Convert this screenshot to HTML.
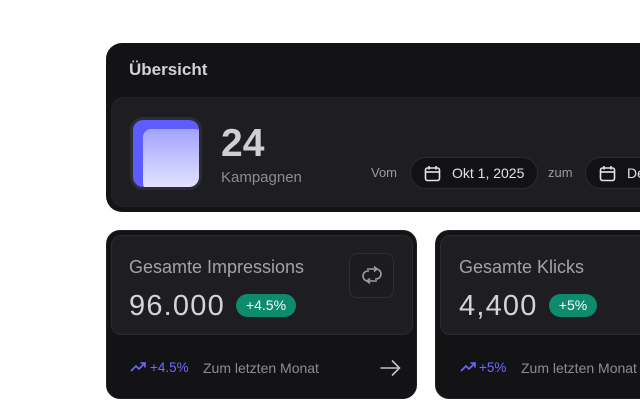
<!DOCTYPE html>
<html><head><meta charset="utf-8">
<style>
*{margin:0;padding:0;box-sizing:border-box}
html,body{width:640px;height:417px;overflow:hidden;background:#fff;font-family:"Liberation Sans",sans-serif}
.abs{position:absolute}
.t{position:absolute;white-space:nowrap;line-height:1}
</style></head><body>
<!-- main card -->
<div class="abs" style="left:106px;top:43px;width:560px;height:169px;background:#131316;border-radius:16px;"></div>
<div class="abs" style="left:111px;top:97px;width:550px;height:110px;background:#1d1d22;border-radius:12px;border:1px solid #222227"></div>
<div class="t" style="left:129px;top:60.5px;font-size:17px;font-weight:bold;color:#d2d2d6">Übersicht</div>

<!-- icon square -->
<div class="abs" style="left:130px;top:117px;width:72px;height:73px;background:#2c2c32;border-radius:13px"></div>
<div class="abs" style="left:133px;top:120px;width:66px;height:67px;background:#5c5cff;border-radius:10px;overflow:hidden">
  <div class="abs" style="left:10px;top:9px;width:60px;height:62px;border-radius:8px;background:linear-gradient(180deg,#a3a3ff 0%,#c8c8ff 55%,#e6e6ff 100%)"></div>
</div>

<div class="t" style="left:221px;top:124px;font-size:39px;font-weight:bold;color:#cfcfd3">24</div>
<div class="t" style="left:221px;top:170px;font-size:15px;color:#8c8c92">Kampagnen</div>

<div class="t" style="left:371px;top:166px;font-size:13px;color:#9a9aa0">Vom</div>
<div class="abs" style="left:410px;top:157px;width:128px;height:32px;border-radius:16px;background:#121215;border:1px solid #2a2a30"></div>
<svg class="abs" style="left:424px;top:165px" width="18" height="17" viewBox="0 0 18 17"><rect x="1.5" y="3" width="14" height="12.5" rx="2" fill="none" stroke="#e4e4e8" stroke-width="1.6"/><line x1="1.5" y1="7" x2="15.5" y2="7" stroke="#e4e4e8" stroke-width="1.6"/><line x1="5" y1="1" x2="5" y2="4.5" stroke="#e4e4e8" stroke-width="1.6"/><line x1="12" y1="1" x2="12" y2="4.5" stroke="#e4e4e8" stroke-width="1.6"/></svg>
<div class="t" style="left:452px;top:165.5px;font-size:14px;color:#e2e2e6">Okt 1, 2025</div>
<div class="t" style="left:548px;top:166px;font-size:13px;color:#9a9aa0">zum</div>
<div class="abs" style="left:585px;top:157px;width:128px;height:32px;border-radius:16px;background:#121215;border:1px solid #2a2a30"></div>
<svg class="abs" style="left:599px;top:165px" width="18" height="17" viewBox="0 0 18 17"><rect x="1.5" y="3" width="14" height="12.5" rx="2" fill="none" stroke="#e4e4e8" stroke-width="1.6"/><line x1="1.5" y1="7" x2="15.5" y2="7" stroke="#e4e4e8" stroke-width="1.6"/><line x1="5" y1="1" x2="5" y2="4.5" stroke="#e4e4e8" stroke-width="1.6"/><line x1="12" y1="1" x2="12" y2="4.5" stroke="#e4e4e8" stroke-width="1.6"/></svg>
<div class="t" style="left:627px;top:165.5px;font-size:14px;color:#e2e2e6">Dez</div>

<!-- card 1 -->
<div class="abs" style="left:106px;top:230px;width:311px;height:169px;background:#131316;border-radius:14px;border:1px solid #1f1f23"></div>
<div class="abs" style="left:111px;top:235px;width:302px;height:100px;background:#1d1d22;border-radius:10px;border:1px solid #2a2a2f"></div>
<div class="t" style="left:129px;top:258px;font-size:18px;color:#a2a2a8">Gesamte Impressions</div>
<div class="abs" style="left:349px;top:253px;width:45px;height:45px;border-radius:8px;border:1px solid #2e2e34;background:#1b1b20"></div>
<svg class="abs" style="left:361px;top:265px" width="22" height="20" viewBox="0 0 22 20"><path d="M6 4 H15 A5 5 0 0 1 15 14 H14" fill="none" stroke="#9c9ca2" stroke-width="1.6"/><path d="M13 1.5 L16 4 L13 6.5" fill="none" stroke="#9c9ca2" stroke-width="1.6"/><path d="M16 16 H7 A5 5 0 0 1 7 6 H8" fill="none" stroke="#9c9ca2" stroke-width="1.6"/><path d="M9 13.5 L6 16 L9 18.5" fill="none" stroke="#9c9ca2" stroke-width="1.6"/></svg>
<div class="t" style="left:129px;top:291.5px;font-size:29px;letter-spacing:1.2px;color:#d4d4d8">96.000</div>
<div class="abs" style="left:236px;top:294px;width:60px;height:23px;border-radius:12px;background:#0e8a6c;color:#fff;font-size:14px;line-height:23px;text-align:center">+4.5%</div>
<svg class="abs" style="left:130px;top:361px" width="17" height="12" viewBox="0 0 17 12"><path d="M1 10 L6 5 L9 8 L15 2" fill="none" stroke="#6b6bff" stroke-width="1.6"/><path d="M10.5 2 H15 V6.5" fill="none" stroke="#6b6bff" stroke-width="1.6"/></svg>
<div class="t" style="left:150px;top:361px;font-size:13.5px;color:#6b6bff">+4.5%</div>
<div class="t" style="left:203px;top:360.5px;font-size:14px;color:#8c8c92">Zum letzten Monat</div>
<svg class="abs" style="left:379px;top:358px" width="23" height="20" viewBox="0 0 23 20"><path d="M1.5 10 H20" stroke="#c4c4c8" stroke-width="1.6"/><path d="M13 2.5 L20.5 10 L13 17.5" fill="none" stroke="#c4c4c8" stroke-width="1.6"/></svg>

<!-- card 2 -->
<div class="abs" style="left:435px;top:230px;width:311px;height:169px;background:#131316;border-radius:14px;border:1px solid #1f1f23"></div>
<div class="abs" style="left:440px;top:235px;width:302px;height:100px;background:#1d1d22;border-radius:10px;border:1px solid #2a2a2f"></div>
<div class="t" style="left:459px;top:258px;font-size:18px;color:#a2a2a8">Gesamte Klicks</div>
<div class="t" style="left:459px;top:291.5px;font-size:29px;letter-spacing:1.2px;color:#d4d4d8">4,400</div>
<div class="abs" style="left:549px;top:294px;width:48px;height:23px;border-radius:12px;background:#0e8a6c;color:#fff;font-size:14px;line-height:23px;text-align:center">+5%</div>
<svg class="abs" style="left:460px;top:361px" width="17" height="12" viewBox="0 0 17 12"><path d="M1 10 L6 5 L9 8 L15 2" fill="none" stroke="#6b6bff" stroke-width="1.6"/><path d="M10.5 2 H15 V6.5" fill="none" stroke="#6b6bff" stroke-width="1.6"/></svg>
<div class="t" style="left:479px;top:361px;font-size:13.5px;color:#6b6bff">+5%</div>
<div class="t" style="left:521px;top:360.5px;font-size:14px;color:#8c8c92">Zum letzten Monat</div>
</body></html>
